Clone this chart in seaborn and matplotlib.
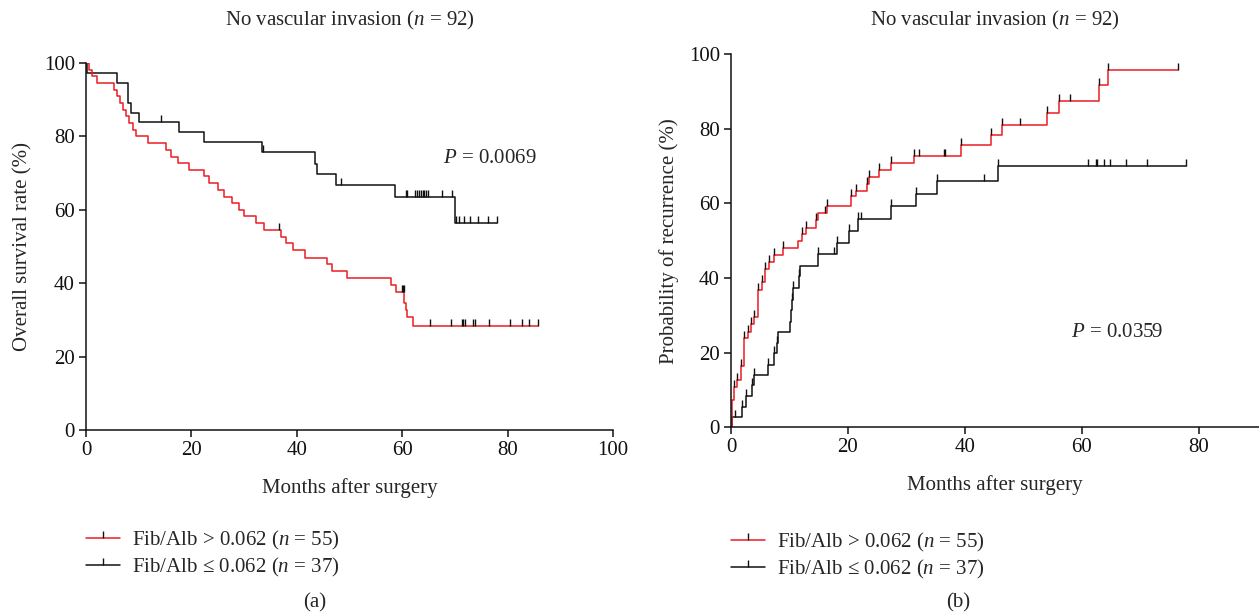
import numpy as np
import pandas as pd
import matplotlib
matplotlib.use("Agg")
import matplotlib.pyplot as plt
from matplotlib.lines import Line2D
import seaborn as sns

# ---------------- data ----------------
# Panel (a): overall survival (Kaplan-Meier), step times (months) and survival (%)
a_high_t = [0, 0.6, 1.1, 2.0, 5.4, 5.9, 6.5, 7.1, 7.6, 8.2, 8.9, 9.4, 11.7, 15.2, 16.1, 17.5, 19.5,
            22.4, 23.3, 25.1, 26.2, 27.7, 29.1, 30.0, 32.2, 33.8, 37.0, 37.9, 39.3, 41.6, 45.7, 46.6,
            49.5, 57.8, 58.8, 60.4, 60.7, 61.0, 62.1]
a_high_s = [100, 98.2, 96.4, 94.5, 92.7, 90.9, 89.1, 87.3, 85.5, 83.6, 81.8, 80.0, 78.2, 76.4, 74.5,
            72.7, 70.9, 69.1, 67.3, 65.5, 63.6, 61.8, 60.0, 58.2, 56.4, 54.5, 52.7, 50.9, 49.0, 47.0,
            45.2, 43.3, 41.4, 39.5, 37.7, 34.5, 32.7, 30.9, 28.4]
a_high_end = 85.7
a_high_cens = [36.6, 59.9, 60.1, 60.3, 65.3, 69.3, 71.3, 71.6, 72.0, 73.5, 73.9, 76.5, 80.5, 82.7,
               84.1, 85.7]

a_low_t = [0, 0.25, 5.9, 8.0, 8.5, 10.1, 17.6, 22.4, 33.4, 43.5, 43.9, 47.4, 58.6, 70.0]
a_low_s = [100, 97.3, 94.6, 89.2, 86.5, 83.8, 81.1, 78.4, 75.7, 72.5, 69.7, 66.7, 63.6, 56.5]
a_low_end = 77.9
a_low_cens = [14.2, 33.6, 48.3, 60.7, 61.0, 62.4, 62.8, 63.2, 63.5, 63.9, 64.2, 64.6, 64.9, 67.6,
              69.4, 70.3, 70.8, 71.7, 72.9, 74.4, 76.3, 77.9]

# Panel (b): cumulative probability of recurrence (%)
b_high_t = [0, 0.1, 0.57, 0.97, 1.71, 2.28, 2.85, 3.42, 3.99, 4.56, 5.24, 5.81, 6.55, 7.41, 8.95,
            11.5, 12.1, 12.8, 14.5, 14.8, 16.4, 20.6, 21.3, 23.2, 23.6, 25.3, 27.3, 31.3, 39.4, 44.4,
            46.4, 54.1, 56.1, 62.9, 64.4]
b_high_p = [0, 7.3, 10.9, 12.7, 16.5, 23.9, 25.6, 27.7, 29.5, 36.8, 38.9, 42.4, 44.4, 46.2, 48.1,
            49.8, 51.7, 53.5, 55.6, 57.4, 59.3, 62.0, 63.2, 65.2, 67.0, 69.0, 70.9, 72.7, 75.5, 78.2,
            81.0, 84.2, 87.3, 91.6, 95.8]
b_high_end = 76.4
b_high_cens = [0.57, 0.97, 1.71, 2.28, 2.85, 3.42, 3.99, 4.56, 5.24, 5.81, 6.55, 7.41, 8.95, 12.1,
               12.8, 14.5, 16.0, 16.4, 20.6, 21.3, 23.2, 23.6, 25.3, 27.3, 31.3, 32.2, 36.4, 36.6,
               39.4, 44.4, 46.4, 49.5, 54.1, 56.1, 57.9, 62.9, 64.4, 76.4]

b_low_t = [0, 0.23, 1.83, 2.5, 3.65, 3.93, 6.27, 7.41, 7.81, 8.09, 10.1, 10.2, 10.4, 10.65, 11.6,
           11.8, 14.8, 18.2, 20.1, 21.7, 27.4, 31.6, 35.3, 45.6]
b_low_p = [0, 2.8, 5.5, 8.4, 11.3, 14.0, 16.7, 19.8, 22.5, 25.4, 28.3, 31.4, 34.1, 37.3, 40.4,
           43.3, 46.5, 49.5, 52.6, 55.8, 59.4, 62.5, 66.0, 69.9]
b_low_end = 77.9
b_low_cens = [0.6, 1.83, 2.5, 3.65, 3.93, 6.27, 7.41, 7.81, 10.4, 10.65, 11.6, 14.8, 17.7, 18.2,
              20.1, 21.7, 22.3, 27.4, 31.6, 35.3, 43.3, 45.6, 61.1, 62.4, 62.6, 63.8, 64.9, 67.5,
              71.2, 77.9]

labels = ["Fib/Alb > 0.062 ($n$ = 55)", "Fib/Alb \u2264 0.062 ($n$ = 37)"]
title = "No vascular invasion ($n$ = 92)"
p_texts = ["$P$ = 0.0069", "$P$ = 0.0359"]

# ---------------- style ----------------
sns.set_style("ticks")
plt.rcParams['font.family'] = ['Liberation Serif', 'DejaVu Serif']
plt.rcParams['mathtext.fontset'] = 'custom'
plt.rcParams['mathtext.rm'] = 'Liberation Serif'
plt.rcParams['mathtext.it'] = 'Liberation Serif:italic'
FS = 15
RED = '#ec1c24'
BLACK = '#111111'

W, H = 1259, 616
fig = plt.figure(figsize=(W / 100, H / 100), dpi=100)
ax1 = fig.add_axes([86 / W, 1 - 430 / H, (613 - 86) / W, (430 - 63) / H])
ax2 = fig.add_axes([731 / W, 1 - 427.3 / H, (1259 - 731) / W, (427.3 - 54) / H])


def draw_curve(ax, t, v, end, cens, color):
    tt = list(t) + [end]
    vv = list(v) + [v[-1]]
    df = pd.DataFrame({"t": tt, "v": vv})
    sns.lineplot(data=df, x="t", y="v", drawstyle="steps-post", color=color, lw=1.1,
                 estimator=None, sort=False, ax=ax, legend=False)
    idx = np.searchsorted(np.array(t), np.array(cens), side="right") - 1
    cy = np.array(v)[idx]
    ax.plot(cens, cy, linestyle="none", marker=2, markersize=5, markeredgewidth=1.0,
            color=BLACK, clip_on=False)


draw_curve(ax1, a_low_t, a_low_s, a_low_end, a_low_cens, BLACK)
draw_curve(ax1, a_high_t, a_high_s, a_high_end, a_high_cens, RED)
draw_curve(ax2, b_low_t, b_low_p, b_low_end, b_low_cens, BLACK)
draw_curve(ax2, b_high_t, b_high_p, b_high_end, b_high_cens, RED)

for ax in (ax1, ax2):
    ax.set_ylim(0, 100)
    ax.set_yticks([0, 20, 40, 60, 80, 100])
    sns.despine(ax=ax)
    for s in ("left", "bottom"):
        ax.spines[s].set_linewidth(1.1)
        ax.spines[s].set_color(BLACK)
    ax.tick_params(axis="both", direction="out", length=5, width=1.1, labelsize=FS,
                   colors=BLACK, pad=3)

ax1.set_xlim(0, 100)
ax1.set_xticks([0, 20, 40, 60, 80, 100])
ax2.set_xlim(0, 90.3)
ax2.set_xticks([0, 20, 40, 60, 80])

ax1.set_xlabel("Months after surgery", fontsize=FS, labelpad=13)
ax1.set_ylabel("Overall survival rate (%)", fontsize=FS, labelpad=8)
ax2.set_xlabel("Months after surgery", fontsize=FS, labelpad=13)
ax2.set_ylabel("Probability of recurrence (%)", fontsize=FS, labelpad=7)

fig.text(349.5 / W, 1 - 20 / H, title, fontsize=FS, ha="center", va="center")
fig.text(995 / W, 1 - 20 / H, title, fontsize=FS, ha="center", va="center")

ax1.text(67.7, 74, p_texts[0], fontsize=FS, va="center", ha="left")
ax2.text(58.1, 25.5, p_texts[1], fontsize=FS, va="center", ha="left")

handles = [Line2D([], [], color=RED, lw=1.1, marker=2, markersize=5, markeredgecolor=BLACK),
           Line2D([], [], color=BLACK, lw=1.1, marker=2, markersize=5, markeredgecolor=BLACK)]
for ax, x0, y0 in ((ax1, 86, 529), (ax2, 731, 531)):
    ax.legend(handles, labels, loc="upper left", bbox_to_anchor=(x0 / W, 1 - y0 / H),
              bbox_transform=fig.transFigure, frameon=False, borderaxespad=0, borderpad=0,
              handlelength=1.65, handletextpad=0.55, labelspacing=0.2, fontsize=FS, numpoints=1)

fig.text(315 / W, 1 - 603 / H, "(a)", fontsize=FS, ha="center", va="center")
fig.text(958 / W, 1 - 603 / H, "(b)", fontsize=FS, ha="center", va="center")

fig.savefig("out.png", dpi=100)
